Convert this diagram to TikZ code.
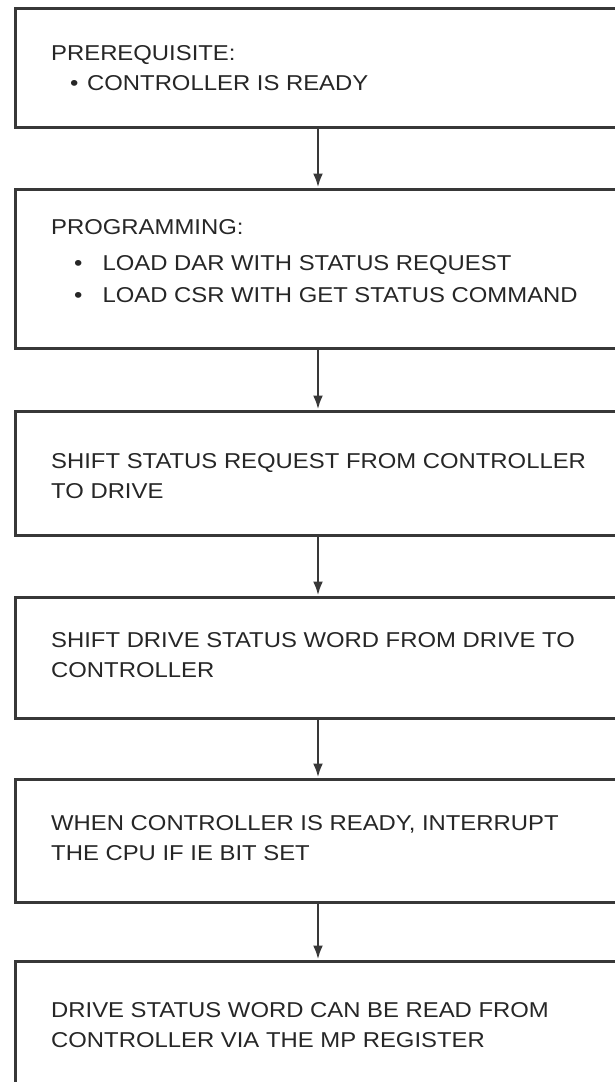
\documentclass[tikz,border=0pt]{standalone}
\usepackage{fontspec}
\setmainfont{Liberation Sans}[FakeStretch=1.11]
\usetikzlibrary{arrows.meta}
\definecolor{ink}{HTML}{383838}
\definecolor{txt}{HTML}{262626}
\newcommand\bul[1]{\textbullet\hspace{#1}}
\begin{document}
\begin{tikzpicture}[x=1pt,y=-1pt,
  box/.style={draw=ink, line width=3pt, minimum width=606pt, inner sep=0pt, rectangle},
  lbl/.style={anchor=base west, inner sep=0pt, text=txt, font=\fontsize{21.5}{24}\selectfont},
  arr/.style={draw=ink, line width=2.6pt, -{Latex[length=14pt,width=10pt]}}]
\useasboundingbox (0,0) rectangle (615,1082);
\clip (0,0) rectangle (615,1082);
\node[box, minimum height=119pt] (b1) at (318,67.5) {};
\node[box, minimum height=159pt] (b2) at (318,268.5) {};
\node[box, minimum height=124pt] (b3) at (318,473) {};
\node[box, minimum height=121pt] (b4) at (318,657.5) {};
\node[box, minimum height=123pt] (b5) at (318,840.5) {};
\node[box, minimum height=149pt] (b6) at (318,1035.5) {};
\draw[arr] (b1) -- (b2);
\draw[arr] (b2) -- (b3);
\draw[arr] (b3) -- (b4);
\draw[arr] (b4) -- (b5);
\draw[arr] (b5) -- (b6);
\node[lbl] (t1a) at (51,60) {PREREQUISITE:};
\node[lbl] (t1b) at (70,90) {\bul{8.6pt}CONTROLLER IS READY};
\node[lbl] (t2a) at (51,234) {PROGRAMMING:};
\node[lbl] (t2b) at (74,270) {\bul{20pt}LOAD DAR WITH STATUS REQUEST};
\node[lbl] (t2c) at (74,302) {\bul{20pt}LOAD CSR WITH GET STATUS COMMAND};
\node[lbl] (t3a) at (51,468.5) {SHIFT STATUS REQUEST FROM CONTROLLER};
\node[lbl] (t3b) at (51,498.5) {TO DRIVE};
\node[lbl] (t4a) at (51,647.5) {SHIFT DRIVE STATUS WORD FROM DRIVE TO};
\node[lbl] (t4b) at (51,677) {CONTROLLER};
\node[lbl] (t5a) at (51,830.5) {WHEN CONTROLLER IS READY, INTERRUPT};
\node[lbl] (t5b) at (51,860) {THE CPU IF IE BIT SET};
\node[lbl] (t6a) at (51,1017) {DRIVE STATUS WORD CAN BE READ FROM};
\node[lbl] (t6b) at (51,1047) {CONTROLLER VIA THE MP REGISTER};
\end{tikzpicture}
\end{document}
